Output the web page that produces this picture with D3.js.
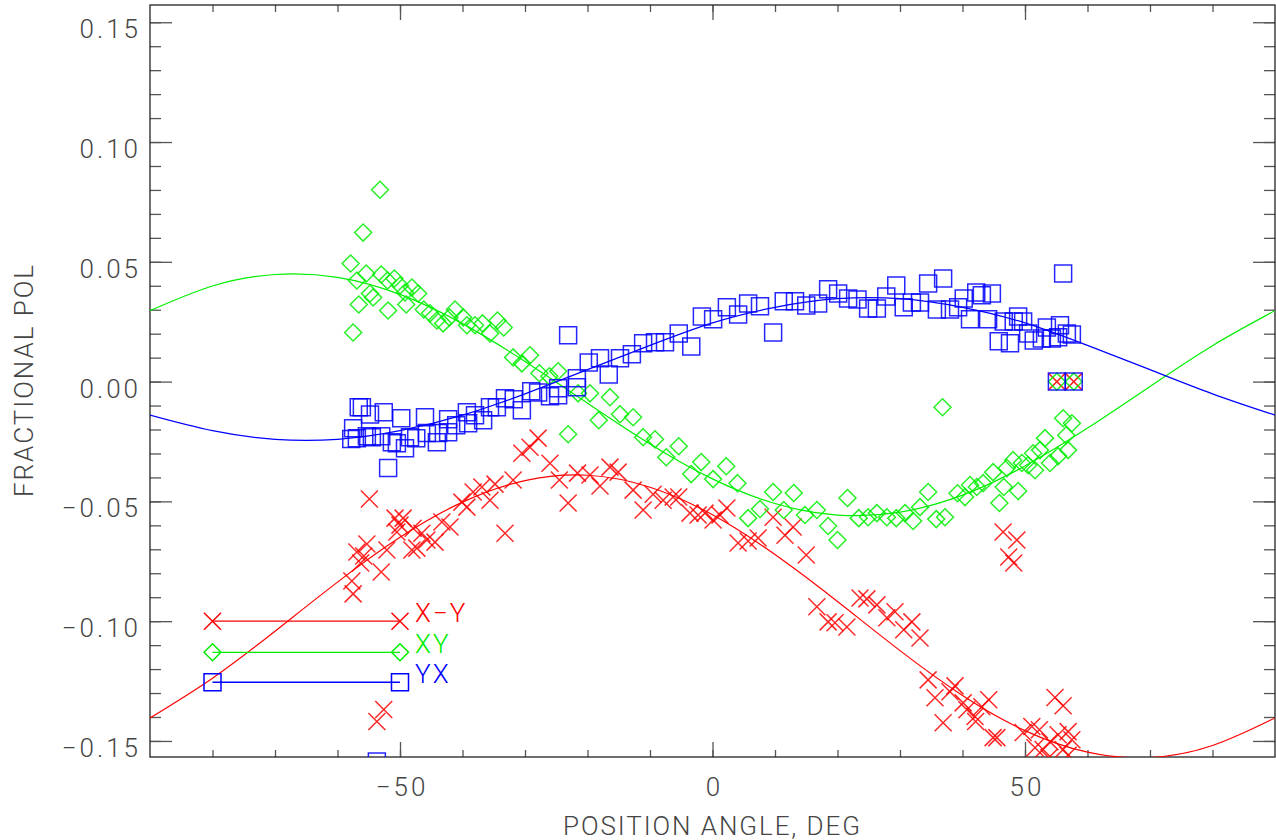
<!DOCTYPE html>
<html>
<head>
<meta charset="utf-8">
<script src="https://cdn.jsdelivr.net/npm/d3@7"></script>
<style>
  body { margin: 0; background: #fff; }
  text { font-family: Roboto, "Open Sans", sans-serif; font-weight: 300; fill: #444; }
</style>
</head>
<body>
<script>
const width = 1276;
const height = 840;

// X-Y (red crosses)
const redAngle = [-54.9, -57.5, -57.7, -56.3, -56.9, -55.3, -55.8, -53.0, -52.1, -50.8, -49.5, -50.0, -50.5, -47.9, -48.1, -46.5, -45.7, -44.4, -47.3, -43.3, -42.0, -40.1, -39.3, -38.3, -36.9, -35.6, -34.8, -31.9, -33.2, -30.5, -29.2, -27.9, -26.0, -24.5, -23.1, -21.6, -19.6, -18.0, -16.4, -15.1, -12.7, -11.1, -53.7, -52.6, -9.5, -7.9, -6.3, -5.4, -3.6, -2.3, -1.2, 0.1, 2.3, 1.2, 4.1, 5.7, 7.3, 9.7, 11.6, 12.9, 15.0, 16.7, 18.5, 19.6, 21.5, 23.6, 24.7, 26.3, 27.9, 29.2, 30.6, 31.9, 33.2, 34.5, 35.6, 38.0, 36.9, 38.8, 46.5, 48.7, 47.4, 48.2, 40.1, 40.7, 42.0, 43.1, 44.2, 42.1, 44.9, 45.5, 54.8, 56.1, 49.7, 51.1, 52.3, 51.6, 52.9, 54.0, 55.3, 56.9, 57.5, 56.1, 53.8, 56.9, 55.1, 57.8];
const redFrac = [-0.0490, -0.0886, -0.0832, -0.0757, -0.0711, -0.0678, -0.0728, -0.0795, -0.0703, -0.0570, -0.0570, -0.0599, -0.0628, -0.0612, -0.0703, -0.0633, -0.0661, -0.0670, -0.0695, -0.0586, -0.0607, -0.0503, -0.0524, -0.0461, -0.0440, -0.0495, -0.0428, -0.0411, -0.0633, -0.0299, -0.0274, -0.0236, -0.0341, -0.0411, -0.0507, -0.0382, -0.0390, -0.0436, -0.0357, -0.0378, -0.0453, -0.0536, -0.1419, -0.1369, -0.0470, -0.0495, -0.0482, -0.0482, -0.0549, -0.0557, -0.0549, -0.0578, -0.0528, -0.0557, -0.0674, -0.0665, -0.0653, -0.0566, -0.0641, -0.0607, -0.0724, -0.0940, -0.1003, -0.1007, -0.1024, -0.0903, -0.0907, -0.0932, -0.0986, -0.0961, -0.1036, -0.1003, -0.1070, -0.1245, -0.1320, -0.1295, -0.1424, -0.1270, -0.0628, -0.0661, -0.0732, -0.0757, -0.1341, -0.1370, -0.1398, -0.1357, -0.1328, -0.1419, -0.1486, -0.1486, -0.1319, -0.1353, -0.1465, -0.1440, -0.1453, -0.1528, -0.1536, -0.1503, -0.1474, -0.1461, -0.1495, -0.1536, -0.1570, -0.1560, 0, 0];

// XY (green diamonds)
const greenAngle = [-53.2, -55.9, -57.9, -55.4, -56.9, -53.0, -52.0, -50.9, -50.0, -48.1, -47.1, -49.2, -54.8, -54.3, -56.6, -51.9, -49.0, -46.2, -45.2, -44.1, -43.1, -42.1, -41.2, -39.9, -39.3, -38.0, -36.8, -35.6, -34.4, -33.4, -57.5, -31.9, -30.5, -29.2, -27.7, -26.1, -24.7, -21.5, -19.6, -16.4, -18.2, -23.1, -14.8, -12.7, -11.1, -9.2, -5.4, -7.4, -1.8, -3.4, 2.2, 0.1, 4.0, 9.7, 13.0, 5.7, 7.6, 11.4, 14.8, 16.7, 18.5, 20.0, 21.6, 23.4, 24.9, 26.3, 27.9, 29.4, 30.8, 32.1, 33.2, 34.5, 35.8, 37.2, 36.8, 39.2, 40.4, 41.2, 42.3, 43.3, 44.9, 45.9, 46.6, 47.1, 48.1, 48.9, 49.5, 50.5, 51.6, 51.3, 52.4, 53.2, 56.1, 57.5, 56.6, 56.9, 55.3, 54.0, 55.1, 57.8];
const greenFrac = [0.0801, 0.0622, 0.0493, 0.0451, 0.0422, 0.0447, 0.0422, 0.0430, 0.0401, 0.0393, 0.0368, 0.0372, 0.0368, 0.0351, 0.0322, 0.0297, 0.0322, 0.0301, 0.0285, 0.0255, 0.0243, 0.0268, 0.0301, 0.0268, 0.0235, 0.0235, 0.0243, 0.0201, 0.0255, 0.0226, 0.0205, 0.0101, 0.0076, 0.0110, 0.0035, 0.0022, 0.0043, -0.0049, -0.0049, -0.0065, -0.0161, -0.0220, -0.0136, -0.0149, -0.0232, -0.0241, -0.0270, -0.0316, -0.0336, -0.0386, -0.0353, -0.0407, -0.0424, -0.0461, -0.0465, -0.0570, -0.0532, -0.0536, -0.0557, -0.0536, -0.0603, -0.0661, -0.0486, -0.0570, -0.0566, -0.0549, -0.0566, -0.0570, -0.0549, -0.0582, -0.0524, -0.0461, -0.0574, -0.0566, -0.0107, -0.0466, -0.0482, -0.0432, -0.0440, -0.0424, -0.0378, -0.0507, -0.0440, -0.0361, -0.0328, -0.0457, -0.0340, -0.0349, -0.0370, -0.0299, -0.0286, -0.0236, -0.0153, -0.0174, -0.0224, -0.0286, -0.0311, -0.0340, 0, 0];

// YX (blue squares)
const blueAngle = [-56.6, -56.1, -54.8, -52.6, -49.8, -57.5, -57.8, -56.9, -55.3, -54.5, -53.0, -51.3, -50.5, -49.2, -48.4, -47.4, -46.0, -45.7, -44.1, -43.9, -42.3, -42.3, -41.0, -39.3, -39.1, -38.0, -36.7, -35.6, -34.5, -33.2, -31.8, -30.5, -29.0, -27.9, -26.0, -24.7, -21.7, -51.9, -53.7, -23.1, -21.7, -24.7, -19.8, -18.0, -16.6, -14.8, -12.9, -11.1, -9.2, -7.6, -5.4, -3.4, -1.7, 0.1, 2.3, 4.1, 5.7, 7.6, 9.7, 11.4, 13.2, 15.0, 16.9, 18.5, 20.1, 21.7, 23.2, 24.9, 26.3, 27.8, 29.4, 30.6, 31.9, 33.2, 34.5, 35.9, 36.9, 38.0, 39.3, 40.2, 41.2, 42.2, 43.1, 44.7, 44.1, 45.8, 46.6, 47.6, 48.2, 48.9, 49.7, 50.5, 51.4, 52.7, 53.5, 54.3, 55.3, 55.6, 56.1, 56.7, 57.5, 55.1, 57.8];
const blueFrac = [-0.0107, -0.0107, -0.0137, -0.0128, -0.0153, -0.0195, -0.0240, -0.0236, -0.0228, -0.0232, -0.0228, -0.0253, -0.0257, -0.0278, -0.0232, -0.0236, -0.0149, -0.0215, -0.0253, -0.0215, -0.0157, -0.0211, -0.0182, -0.0128, -0.0174, -0.0140, -0.0161, -0.0107, -0.0107, -0.0070, -0.0074, -0.0120, -0.0040, -0.0045, -0.0061, -0.0057, -0.0024, -0.0361, -0.1586, 0.0193, 0.0014, -0.0028, 0.0080, 0.0097, 0.0030, 0.0097, 0.0114, 0.0160, 0.0164, 0.0164, 0.0201, 0.0147, 0.0272, 0.0260, 0.0310, 0.0280, 0.0326, 0.0314, 0.0205, 0.0335, 0.0335, 0.0318, 0.0326, 0.0385, 0.0368, 0.0347, 0.0343, 0.0305, 0.0305, 0.0355, 0.0401, 0.0310, 0.0330, 0.0330, 0.0410, 0.0301, 0.0430, 0.0301, 0.0310, 0.0347, 0.0260, 0.0372, 0.0360, 0.0368, 0.0260, 0.0168, 0.0251, 0.0160, 0.0251, 0.0272, 0.0251, 0.0201, 0.0172, 0.0180, 0.0226, 0.0180, 0.0185, 0.0235, 0.0451, 0.0201, 0.0197, 0, 0];

const fitAngle = [-90, -80, -70, -60, -50, -40, -30, -20, -10, 0, 10, 20, 30, 40, 50, 60, 70, 80, 90];
const fitRed = [-0.1404, -0.1238, -0.1042, -0.0837, -0.0650, -0.0503, -0.0413, -0.0391, -0.0441, -0.0556, -0.0722, -0.0918, -0.1123, -0.1310, -0.1457, -0.1547, -0.1569, -0.1519, -0.1404];
const fitGreen = [0.0296, 0.0399, 0.0447, 0.0435, 0.0364, 0.0242, 0.0084, -0.0090, -0.0260, -0.0406, -0.0509, -0.0557, -0.0545, -0.0474, -0.0352, -0.0194, -0.0020, 0.0150, 0.0296];
const fitBlue = [-0.0140, -0.0205, -0.0241, -0.0241, -0.0205, -0.0140, -0.0051, 0.0050, 0.0151, 0.0245, 0.0310, 0.0346, 0.0346, 0.0310, 0.0245, 0.0151, 0.0050, -0.0051, -0.0140];

// legend
const legendNames = ["X\u2212Y", "XY", "YX"];
const legendColors = ["#ff0000", "#00ee00", "#0000ff"];
const legendAngle = [-80, -50];
const legendFrac = [-0.100, -0.113, -0.1255];
const legendLabelAngle = -47.6;

const xMajor = [-50, 0, 50];
const xMinor = d3.range(-80, 90, 10);
const yMajor = [-0.15, -0.10, -0.05, 0, 0.05, 0.10, 0.15];
const yMinor = d3.range(-15, 16, 1).map((d) => d / 100);

let margin = { top: 5, right: 1, bottom: 83, left: 150 };

let svg = d3
  .select("body")
  .append("svg")
  .attr("width", width)
  .attr("height", height);

let x = d3
  .scaleLinear()
  .domain([-90, 90])
  .range([margin.left, width - margin.right]);

let y = d3
  .scaleLinear()
  .domain([-0.1567, 0.1572])
  .range([height - margin.bottom, margin.top]);

svg
  .append("clipPath")
  .attr("id", "plot")
  .append("rect")
  .attr("x", margin.left)
  .attr("y", margin.top)
  .attr("width", width - margin.right - margin.left)
  .attr("height", height - margin.bottom - margin.top);

// axes, IDL style: ticks point inward, box all round
function styleAxis(g) {
  g.select(".domain").remove();
  g.selectAll("line").attr("stroke", "#555").attr("stroke-width", 1.3);
  g.selectAll("text").attr("font-size", 26).attr("letter-spacing", 3).attr("fill", "#444");
}

let plotBottom = y.range()[0];
let plotTop = y.range()[1];
let plotLeft = x.range()[0];
let plotRight = x.range()[1];

svg.append("g").attr("transform", `translate(0,${plotBottom})`)
  .call(d3.axisBottom(x).tickValues(xMinor).tickSize(-7).tickFormat("")).call(styleAxis);
svg.append("g").attr("transform", `translate(0,${plotBottom})`)
  .call(d3.axisBottom(x).tickValues(xMajor).tickSize(-15).tickPadding(21).tickFormat(d3.format("d")))
  .call(styleAxis)
  .call((g) => g.selectAll("text").attr("dx", 1.5));
svg.append("g").attr("transform", `translate(0,${plotTop})`)
  .call(d3.axisTop(x).tickValues(xMinor).tickSize(-7).tickFormat("")).call(styleAxis);
svg.append("g").attr("transform", `translate(0,${plotTop})`)
  .call(d3.axisTop(x).tickValues(xMajor).tickSize(-15).tickFormat("")).call(styleAxis);

svg.append("g").attr("transform", `translate(${plotLeft},0)`)
  .call(d3.axisLeft(y).tickValues(yMinor).tickSize(-11).tickFormat("")).call(styleAxis);
svg.append("g").attr("transform", `translate(${plotLeft},0)`)
  .call(d3.axisLeft(y).tickValues(yMajor).tickSize(-22).tickPadding(9).tickFormat(d3.format(".2f")))
  .call(styleAxis)
  .call((g) => g.selectAll("text").attr("dy", "0.6em"));
svg.append("g").attr("transform", `translate(${plotRight},0)`)
  .call(d3.axisRight(y).tickValues(yMinor).tickSize(-11).tickFormat("")).call(styleAxis);
svg.append("g").attr("transform", `translate(${plotRight},0)`)
  .call(d3.axisRight(y).tickValues(yMajor).tickSize(-22).tickFormat("")).call(styleAxis);

svg
  .append("rect")
  .attr("x", plotLeft)
  .attr("y", plotTop)
  .attr("width", plotRight - plotLeft)
  .attr("height", plotBottom - plotTop)
  .attr("fill", "none")
  .attr("stroke", "#222")
  .attr("stroke-width", 1.3);

svg
  .append("text")
  .attr("x", (plotLeft + plotRight) / 2 - 1)
  .attr("y", 835)
  .attr("text-anchor", "middle")
  .attr("font-size", 26)
  .attr("textLength", 297)
  .attr("lengthAdjust", "spacing")
  .text("POSITION ANGLE, DEG");

svg
  .append("text")
  .attr("transform", `translate(33,${(plotTop + plotBottom) / 2}) rotate(-90)`)
  .attr("text-anchor", "middle")
  .attr("font-size", 26)
  .attr("textLength", 232)
  .attr("lengthAdjust", "spacing")
  .text("FRACTIONAL POL");

// symbols
const s = 8.5;
const shapes = {
  cross: `M${-s},${-s}L${s},${s}M${-s},${s}L${s},${-s}`,
  diamond: `M0,${-s}L${s},0L0,${s}L${-s},0Z`,
  square: `M${-s},${-s}H${s}V${s}H${-s}Z`,
};

let plot = svg.append("g").attr("clip-path", "url(#plot)");

let line = d3
  .line()
  .x((d) => x(d[0]))
  .y((d) => y(d[1]))
  .curve(d3.curveNatural);

const series = [
  { angle: redAngle, frac: redFrac, fit: fitRed, color: legendColors[0], shape: "cross" },
  { angle: greenAngle, frac: greenFrac, fit: fitGreen, color: legendColors[1], shape: "diamond" },
  { angle: blueAngle, frac: blueFrac, fit: fitBlue, color: legendColors[2], shape: "square" },
];

series.forEach((ser) => {
  plot
    .append("path")
    .datum(fitAngle.map((a, i) => [a, ser.fit[i]]))
    .attr("d", line)
    .attr("fill", "none")
    .attr("stroke", ser.color)
    .attr("stroke-width", 1.2);

  plot
    .selectAll(null)
    .data(ser.angle.map((a, i) => [a, ser.frac[i]]))
    .join("path")
    .attr("transform", (d) => `translate(${x(d[0])},${y(d[1])})`)
    .attr("d", shapes[ser.shape])
    .attr("fill", "none")
    .attr("stroke", ser.color)
    .attr("stroke-opacity", 0.85)
    .attr("stroke-width", 1.5);
});

// legend
series.forEach((ser, i) => {
  let g = svg.append("g");
  g.append("line")
    .attr("x1", x(legendAngle[0]))
    .attr("x2", x(legendAngle[1]))
    .attr("y1", y(legendFrac[i]))
    .attr("y2", y(legendFrac[i]))
    .attr("stroke", ser.color)
    .attr("stroke-width", 1.3);
  legendAngle.forEach((a) => {
    g.append("path")
      .attr("transform", `translate(${x(a)},${y(legendFrac[i])})`)
      .attr("d", shapes[ser.shape])
      .attr("fill", "none")
      .attr("stroke", ser.color)
      .attr("stroke-width", 1.5);
  });
  g.append("text")
    .attr("x", x(legendLabelAngle))
    .attr("y", y(legendFrac[i]) + 1)
    .attr("font-size", 26)
    .attr("letter-spacing", 2)
    .style("fill", ser.color)
    .text(legendNames[i]);
});
</script>
</body>
</html>
